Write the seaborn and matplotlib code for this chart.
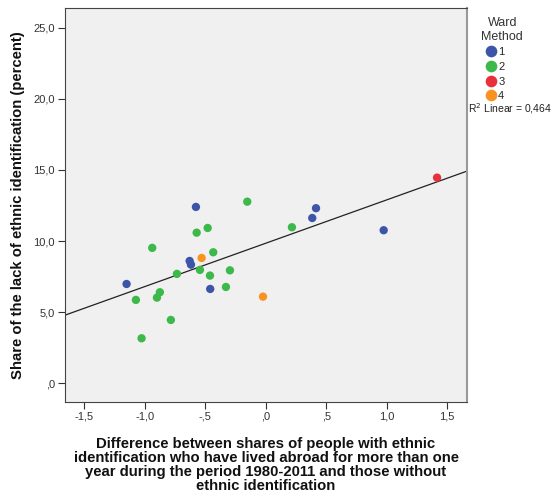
import numpy as np
import pandas as pd
import matplotlib
matplotlib.use("Agg")
import matplotlib.pyplot as plt
import seaborn as sns
from matplotlib.ticker import FuncFormatter

# data
diff_abroad = [1.416, -0.576, -0.152, 0.416, 0.385, 0.217, 0.975, -0.479, -0.570,
               -0.937, -0.433, -0.529, -0.628, -0.617, -0.543, -0.295, -0.733, -0.460,
               -1.149, -0.328, -0.458, -0.874, -0.022, -0.898, -1.072, -0.783, -1.025]
lack_share = [14.46, 12.40, 12.77, 12.31, 11.62, 10.97, 10.76, 10.92, 10.59,
              9.52, 9.21, 8.81, 8.60, 8.34, 7.97, 7.94, 7.69, 7.57,
              6.98, 6.77, 6.63, 6.40, 6.09, 6.02, 5.86, 4.45, 3.16]
ward = ['3', '1', '2', '1', '1', '2', '1', '2', '2',
        '2', '2', '4', '1', '1', '2', '2', '2', '2',
        '1', '2', '1', '2', '4', '2', '2', '2', '2']
clusters = ['1', '2', '3', '4']
cluster_colors = ['#3D55A8', '#3DB84A', '#E8303A', '#F7931E']
x_ticks = [-1.5, -1.0, -0.5, 0.0, 0.5, 1.0, 1.5]
y_ticks = [0, 5, 10, 15, 20, 25]

df = pd.DataFrame({'x': diff_abroad, 'y': lack_share, 'ward': ward})

sns.set_style("white")
plt.rcParams['font.family'] = ['Liberation Sans', 'DejaVu Sans']

fig = plt.figure(figsize=(5.56, 4.95), dpi=100)
ax = fig.add_axes([0.1164, 0.1885, 0.7241, 0.7947])
ax.set_facecolor('#F0F0F0')
ax.set_xlim(-1.66, 1.666)
ax.set_ylim(-1.3, 26.37)

# fitted line across the whole x range, like the SPSS fit line
sns.regplot(data=df, x='x', y='y', scatter=False, ci=None, truncate=False,
            color='#222222', line_kws={'lw': 0.9}, ax=ax)
sns.scatterplot(data=df, x='x', y='y', hue='ward', hue_order=clusters,
                palette=cluster_colors, s=36, edgecolor='none', ax=ax, zorder=3)
ax.set_xlim(-1.66, 1.666)
ax.set_ylim(-1.3, 26.37)


def comma_fmt(v, pos):
    s = f"{v:.1f}".replace('.', ',')
    if s.startswith('0,'):
        s = s[1:]
    elif s.startswith('-0,'):
        s = '-' + s[2:]
    return s


ax.set_xticks(x_ticks)
ax.set_yticks(y_ticks)
ax.xaxis.set_major_formatter(FuncFormatter(comma_fmt))
ax.yaxis.set_major_formatter(FuncFormatter(comma_fmt))
ax.tick_params(axis='both', direction='out', length=5, width=0.8, color='#333333',
               labelsize=8, labelcolor='#333333', bottom=True, left=True, pad=2)

for side in ['left', 'bottom', 'top']:
    ax.spines[side].set_color('#444444')
    ax.spines[side].set_linewidth(0.8)
ax.spines['right'].set_color('#999999')
ax.spines['right'].set_linewidth(1.5)

ax.set_xlabel('Difference between shares of people with ethnic\n'
              'identification who have lived abroad for more than one\n'
              'year during the period 1980-2011 and those without\n'
              'ethnic identification', fontsize=10.7, fontweight='bold',
              linespacing=1.02, labelpad=11, color='#111111')
ax.set_ylabel('Share of the lack of ethnic identification (percent)',
              fontsize=10.7, fontweight='bold', labelpad=6, color='#111111')

leg = ax.legend(title='Ward\nMethod', loc='upper left', bbox_to_anchor=(0.858, 0.975),
                bbox_transform=fig.transFigure, frameon=False, fontsize=8,
                title_fontsize=9, handletextpad=-0.3, labelspacing=0.42,
                markerscale=1.4, handlelength=1.8, borderaxespad=0)
leg._legend_box.align = 'left'
leg.get_title().set_multialignment('center')
leg.get_title().set_color('#333333')

fig.text(0.841, 0.780, 'R$^2$ Linear = 0,464', fontsize=7.5, color='#222222',
         ha='left', va='center')

fig.savefig('out.png', dpi=100)
